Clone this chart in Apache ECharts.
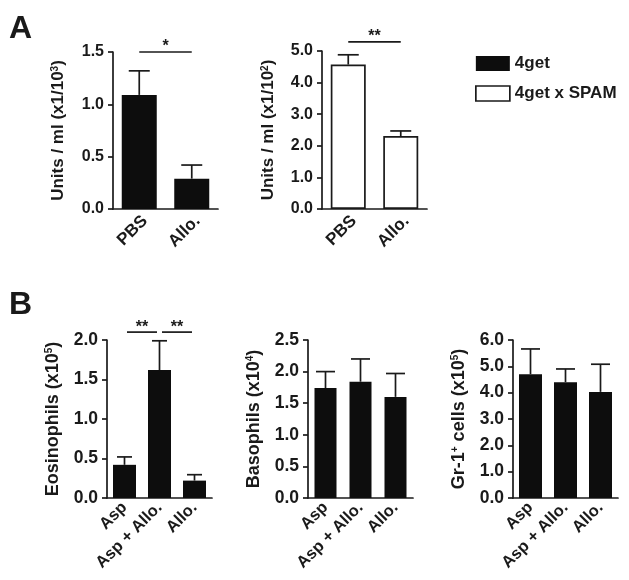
<!DOCTYPE html>
<html>
<head>
<meta charset="utf-8">
<script src="https://cdn.jsdelivr.net/npm/echarts@6/dist/echarts.min.js"></script>
<style>html,body{margin:0;padding:0;background:#fff}#c{width:629px;height:580px}</style>
</head>
<body>
<div id="c"></div>
<script>
// ---- data ----
const catsA = ['PBS', 'Allo.'];
const catsB = ['Asp', 'Asp + Allo.', 'Allo.'];
const units4get = [1.09, 0.29];
const units4getErr = [0.23, 0.13];
const unitsSpam = [4.57, 2.31];
const unitsSpamErr = [0.31, 0.16];
const eos = [0.42, 1.62, 0.22];
const eosErr = [0.10, 0.37, 0.075];
const baso = [1.74, 1.84, 1.60];
const basoErr = [0.26, 0.36, 0.37];
const gr1 = [4.70, 4.40, 4.03];
const gr1Err = [0.96, 0.50, 1.05];
const sigA1 = [[0, 1, 1.5]], sigA1Lbl = ['*'];
const sigA2 = [[0, 1, 5.29]], sigA2Lbl = ['**'];
const sigB1 = [[0, 1, 2.1], [1, 2, 2.1]], sigB1Lbl = ['**', '**'];
const legendNames = ['4get', '4get x SPAM'];

const FF = '"Liberation Sans", Arial, Helvetica, sans-serif';
const INK = '#1a1a1a';

function errSeries(g, vals, errs, capW) {
  return {
    type: 'custom', xAxisIndex: g, yAxisIndex: g, z: 5, silent: true,
    data: vals.map((v, i) => [i, v, errs[i]]),
    encode: { x: 0, y: 1 },
    renderItem: function (params, api) {
      const i = api.value(0), m = api.value(1), e = api.value(2);
      const b = api.coord([i, m]), t = api.coord([i, m + e]);
      const st = { stroke: INK, lineWidth: 1.7 };
      return { type: 'group', children: [
        { type: 'line', shape: { x1: b[0], y1: b[1], x2: t[0], y2: t[1] }, style: st },
        { type: 'line', shape: { x1: t[0] - capW / 2, y1: t[1], x2: t[0] + capW / 2, y2: t[1] }, style: st }
      ] };
    }
  };
}
function sigSeries(g, rows, labels, inset) {
  return {
    type: 'custom', xAxisIndex: g, yAxisIndex: g, z: 6, silent: true, clip: false,
    data: rows,
    encode: { x: 0, y: 2 },
    renderItem: function (params, api) {
      const a = api.coord([api.value(0), api.value(2)]);
      const b = api.coord([api.value(1), api.value(2)]);
      return { type: 'group', children: [
        { type: 'line', shape: { x1: a[0] + inset, y1: a[1], x2: b[0] - inset, y2: b[1] }, style: { stroke: INK, lineWidth: 1.7 } },
        { type: 'text', style: { text: labels[params.dataIndex], x: (a[0] + b[0]) / 2, y: a[1] + 3, align: 'center', verticalAlign: 'bottom', font: 'bold 16px ' + FF, fill: INK } }
      ] };
    }
  };
}
function yAx(g, max, step, name, gap, fs, nfs) {
  return {
    type: 'value', gridIndex: g, min: 0, max: max, interval: step,
    name: name, nameLocation: 'middle', nameGap: gap,
    nameTextStyle: { fontFamily: FF, fontSize: nfs, fontWeight: 'bold', color: INK,
      rich: { sup: { fontFamily: FF, fontSize: 10, fontWeight: 'bold', color: INK, verticalAlign: 'top', lineHeight: 10 } } },
    splitLine: { show: false },
    axisLine: { show: true, lineStyle: { color: INK, width: 1.7 } },
    axisTick: { show: true, length: 5, lineStyle: { color: INK, width: 1.7 } },
    axisLabel: { margin: 9, fontFamily: FF, fontSize: fs, fontWeight: 'bold', color: INK, formatter: v => v.toFixed(1) }
  };
}
function xAx(g, cats, fs, margin, pad) {
  return {
    type: 'category', gridIndex: g, data: cats, boundaryGap: true,
    axisLine: { show: true, lineStyle: { color: INK, width: 1.7 } },
    axisTick: { show: false },
    axisLabel: { rotate: 45, margin: margin, interval: 0, fontFamily: FF, fontSize: fs, fontWeight: 'bold', color: INK, padding: pad }
  };
}
const black = { color: '#0d0d0d' };
const white = { color: '#fff', borderColor: INK, borderWidth: 1.7 };

const option = {
  backgroundColor: '#fff',
  animation: false,
  textStyle: { fontFamily: FF },
  graphic: [
    { type: 'text', left: 9, top: 13, style: { text: 'A', font: 'bold 32px ' + FF, fill: INK } },
    { type: 'text', left: 9, top: 289, style: { text: 'B', font: 'bold 32px ' + FF, fill: INK } }
  ],
  legend: {
    data: [
      { name: legendNames[0], itemStyle: black },
      { name: legendNames[1], itemStyle: white }
    ],
    orient: 'vertical', left: 470, top: 50, itemWidth: 34, itemHeight: 15, itemGap: 13,
    icon: 'rect', selectedMode: false,
    textStyle: { fontFamily: FF, fontSize: 17, fontWeight: 'bold', color: INK }
  },
  grid: [
    { left: 113, top: 52, width: 105, height: 157 },
    { left: 322, top: 51, width: 105, height: 158 },
    { left: 107, top: 340, width: 105, height: 158 },
    { left: 308, top: 340, width: 105, height: 158 },
    { left: 513, top: 340, width: 105, height: 158 }
  ],
  xAxis: [
    xAx(0, catsA, 17, 15, [0, -8, 0, 0]), xAx(1, catsA, 17, 15, [0, -8, 0, 0]),
    xAx(2, catsB, 16.5, 7, 0), xAx(3, catsB, 16.5, 7, 0), xAx(4, catsB, 16.5, 7, 0)
  ],
  yAxis: [
    yAx(0, 1.5, 0.5, 'Units / ml (x1/10{sup|3})', 46, 16, 17),
    yAx(1, 5, 1, 'Units / ml (x1/10{sup|2})', 45, 16, 17),
    yAx(2, 2, 0.5, 'Eosinophils (x10{sup|5})', 45, 17.5, 18),
    yAx(3, 2.5, 0.5, 'Basophils (x10{sup|4})', 45, 17.5, 18),
    yAx(4, 6, 1, 'Gr-1{sup|+} cells (x10{sup|5})', 45, 17.5, 18)
  ],
  series: [
    { type: 'bar', name: legendNames[0], xAxisIndex: 0, yAxisIndex: 0, data: units4get, barWidth: 35, itemStyle: black },
    { type: 'bar', name: legendNames[1], xAxisIndex: 1, yAxisIndex: 1, data: unitsSpam, barWidth: 35, itemStyle: white },
    { type: 'bar', name: 'Eosinophils', xAxisIndex: 2, yAxisIndex: 2, data: eos, barWidth: 23, itemStyle: black },
    { type: 'bar', name: 'Basophils', xAxisIndex: 3, yAxisIndex: 3, data: baso, barWidth: 22, itemStyle: black },
    { type: 'bar', name: 'Gr-1', xAxisIndex: 4, yAxisIndex: 4, data: gr1, barWidth: 23, itemStyle: black },
    errSeries(0, units4get, units4getErr, 21),
    errSeries(1, unitsSpam, unitsSpamErr, 21),
    errSeries(2, eos, eosErr, 15),
    errSeries(3, baso, basoErr, 19),
    errSeries(4, gr1, gr1Err, 19),
    sigSeries(0, sigA1, sigA1Lbl, 0),
    sigSeries(1, sigA2, sigA2Lbl, 0),
    sigSeries(2, sigB1, sigB1Lbl, 2.5)
  ]
};
const chart = echarts.init(document.getElementById('c'), null, { renderer: 'canvas' });
chart.setOption(option);
</script>
</body>
</html>
